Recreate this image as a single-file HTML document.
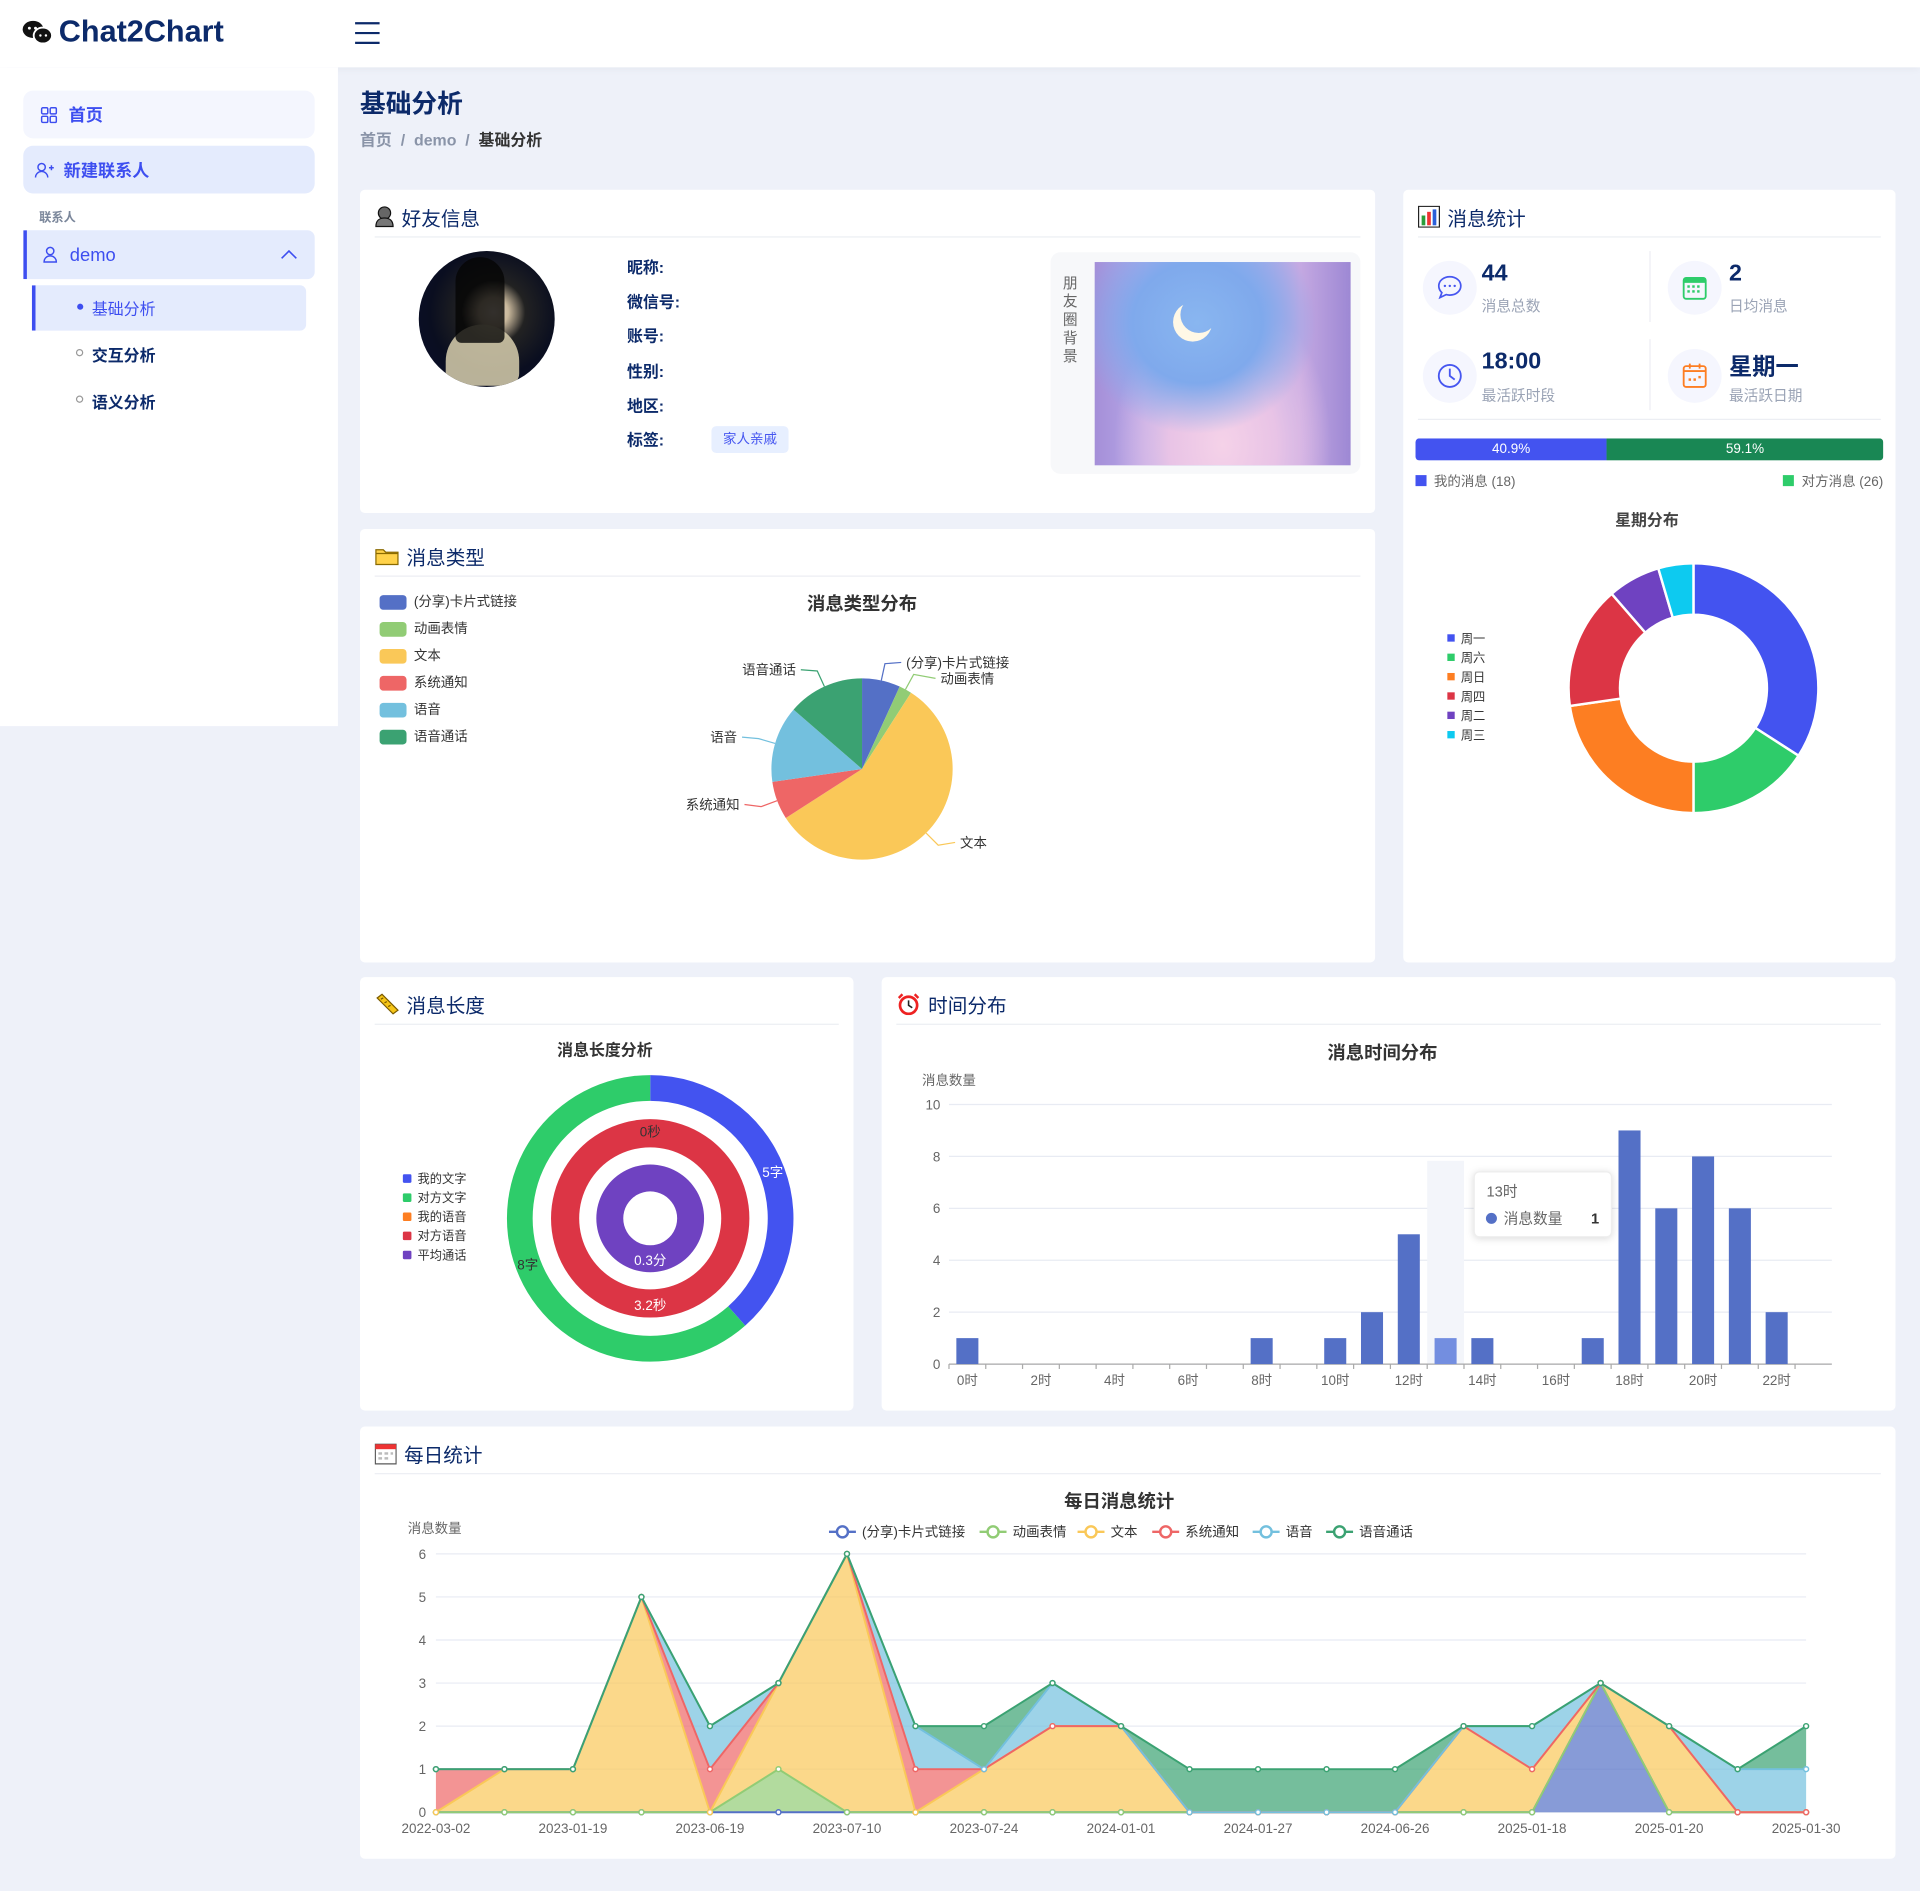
<!DOCTYPE html>
<html><head><meta charset="utf-8">
<style>
html,body{margin:0;padding:0;width:1920px;height:1890px;overflow:hidden;background:#eef1f9;}
*{box-sizing:border-box;}
#root{position:absolute;left:0;top:0;width:1568px;height:1544px;transform:scale(1.22449);transform-origin:0 0;font-family:"Liberation Sans","Noto Sans CJK SC",sans-serif;color:#333;}
.abs{position:absolute;}
.card{position:absolute;background:#fff;border-radius:4px;}
.ch{position:absolute;left:12px;top:10px;font-size:16px;color:#0c2a6a;display:flex;align-items:center;gap:6px;}
.chline{position:absolute;left:12px;right:12px;top:38px;height:1px;background:#eceef3;}
.side-item{position:absolute;left:19px;width:238px;height:39px;border-radius:8px;display:flex;align-items:center;font-size:14px;font-weight:bold;color:#3d4ef0;}
svg text{font-family:"Liberation Sans","Noto Sans CJK SC",sans-serif;}
</style></head><body>
<div id="root">
<div class="abs" style="left:0;top:0;width:1568px;height:55px;background:#fff;box-shadow:0 2px 6px rgba(0,0,0,0.04);">
  <svg class="abs" style="left:18px;top:16px" width="26" height="22"><ellipse cx="9" cy="8" rx="8.5" ry="7" fill="#111"/><ellipse cx="17" cy="13" rx="7.5" ry="6.5" fill="#111" stroke="#fff" stroke-width="1.5"/><circle cx="6" cy="7" r="1.2" fill="#fff"/><circle cx="11" cy="7" r="1.2" fill="#fff"/><circle cx="15" cy="13" r="1" fill="#fff"/><circle cx="19.5" cy="13" r="1" fill="#fff"/></svg>
  <div class="abs" style="left:48px;top:12px;font-size:25px;font-weight:bold;color:#0c2a6a;">Chat2Chart</div>
  <svg class="abs" style="left:289px;top:17px" width="22" height="20"><path d="M1 2H21M1 10H21M1 18H21" stroke="#0c2a6a" stroke-width="1.8"/></svg>
</div>
<div class="abs" style="left:0;top:55px;width:276px;height:538px;background:#fff;">
  <div class="side-item" style="top:19px;background:#f4f6fe;"><svg style="margin-left:14px;margin-right:9px" width="14" height="14"><g fill="none" stroke="#3d4ef0" stroke-width="1.2"><rect x="1" y="1" width="5" height="5" rx="1"/><rect x="8" y="1" width="5" height="5" rx="1"/><rect x="1" y="8" width="5" height="5" rx="1"/><rect x="8" y="8" width="5" height="5" rx="1"/></g></svg>首页</div>
  <div class="side-item" style="top:64px;background:#e4ebfd;"><svg style="margin-left:9px;margin-right:8px" width="16" height="14"><g fill="none" stroke="#3d4ef0" stroke-width="1.2"><circle cx="6" cy="4.5" r="3"/><path d="M1 13c0-3 2.5-5 5-5s5 2 5 5"/><path d="M12 5h4M14 3v4"/></g></svg>新建联系人</div>
  <div class="abs" style="left:32px;top:114px;font-size:10px;color:#7a869a;font-weight:bold;">联系人</div>
  <div class="side-item" style="top:133px;height:40px;background:#e4ebfd;border-radius:0 6px 6px 0;border-left:3px solid #3d4ef0;font-weight:normal;font-size:15px;"><svg style="margin-left:13px;margin-right:10px" width="12" height="14"><g fill="none" stroke="#3d4ef0" stroke-width="1.2"><circle cx="6" cy="4" r="3"/><path d="M1 13c0-3 2.2-5 5-5s5 2 5 5z"/></g></svg>demo<svg style="position:absolute;right:14px" width="14" height="8"><path d="M1 7L7 1L13 7" fill="none" stroke="#3d4ef0" stroke-width="1.3"/></svg></div>
  <div class="abs" style="left:26px;top:178px;width:224px;height:37px;background:#e4ebfd;border-left:3px solid #3d4ef0;border-radius:0 5px 5px 0;font-size:13px;color:#3d4ef0;padding:9px 0 0 46px;"><span style="position:absolute;left:34px;top:15px;width:5px;height:5px;border-radius:50%;background:#3d4ef0"></span>基础分析</div>
  <div class="abs" style="left:75px;top:225px;font-size:13px;font-weight:bold;color:#0c2a6a;"><span style="position:absolute;left:-13px;top:5px;width:6px;height:6px;border-radius:50%;border:1px solid #999"></span>交互分析</div>
  <div class="abs" style="left:75px;top:263px;font-size:13px;font-weight:bold;color:#0c2a6a;"><span style="position:absolute;left:-13px;top:5px;width:6px;height:6px;border-radius:50%;border:1px solid #999"></span>语义分析</div>
</div>
<div class="abs" style="left:294px;top:69px;font-size:21px;font-weight:bold;color:#0c2a6a;">基础分析</div>
<div class="abs" style="left:294px;top:104px;font-size:13px;color:#8a94a8;font-weight:bold;"><span>首页</span> &nbsp;/&nbsp; <span>demo</span> &nbsp;/&nbsp; <span style="color:#333">基础分析</span></div>

<div class="card" style="left:294px;top:155px;width:829px;height:264px;">
  <div class="ch"><svg width="16" height="18"><circle cx="8" cy="6" r="5" fill="#666" stroke="#111"/><path d="M1 17c0-5 3-7 7-7s7 2 7 7z" fill="#777" stroke="#111"/></svg>好友信息</div>
  <div class="chline"></div>
  <div class="abs" style="left:48px;top:50px;width:111px;height:111px;border-radius:50%;overflow:hidden;background:radial-gradient(circle at 55% 45%,#e9d9c8 0,#c9b89c 14%,#222 30%,#0a0e20 60%,#0b0f2e 100%);"><div style="position:absolute;left:22px;top:60px;width:60px;height:50px;border-radius:30px 30px 10px 10px;background:#d8cfae;opacity:.85"></div><div style="position:absolute;left:30px;top:5px;width:40px;height:70px;background:#050505;border-radius:20px 20px 5px 5px;opacity:.8"></div></div>
  <div class="abs" style="left:218px;top:50px;font-size:13px;font-weight:bold;color:#0c2a6a;line-height:28.2px;">昵称:<br>微信号:<br>账号:<br>性别:<br>地区:<br>标签:</div>
  <div class="abs" style="left:287px;top:193px;width:63px;height:22px;background:#e7efff;border-radius:4px;font-size:11px;color:#4656f0;text-align:center;line-height:22px;">家人亲戚</div>
  <div class="abs" style="left:564px;top:51px;width:253px;height:181px;background:#f7f8fa;border-radius:8px;">
    <div class="abs" style="left:10px;top:18px;width:14px;font-size:12px;line-height:15px;color:#666;">朋友圈背景</div>
    <div class="abs" style="left:36px;top:8px;width:209px;height:166px;background:radial-gradient(ellipse at 40% 30%,#89b6f0 0,#7fa9ec 30%,transparent 55%),radial-gradient(ellipse at 50% 90%,#f5d2e8 0,#e8c3e6 30%,transparent 60%),linear-gradient(90deg,#a58fd8,#b7a8e8 20%,#8db2ef 45%,#c5a9e2 80%,#9d88d4);"><div style="position:absolute;left:70px;top:28px;width:30px;height:30px;border-radius:50%;box-shadow:-5px 6px 0 1px #fff8e6;"></div></div>
  </div>
</div>

<div class="card" style="left:1146px;top:155px;width:402px;height:631px;">
  <div class="ch"><svg width="18" height="18"><rect x="0.5" y="0.5" width="17" height="17" fill="#fff" stroke="#222"/><rect x="3" y="8" width="3" height="8" fill="#2a9d3a"/><rect x="7.5" y="5" width="3" height="11" fill="#e33"/><rect x="12" y="3" width="3" height="13" fill="#2b5fd9"/></svg>消息统计</div>
  <div class="chline"></div>
  <div class="abs" style="left:201px;top:50px;width:1px;height:58px;background:#eceef3"></div>
  <div class="abs" style="left:201px;top:122px;width:1px;height:58px;background:#eceef3"></div>
  <div class="abs" style="left:12px;top:187px;width:378px;height:1px;background:#eceef3"></div>
  <div class="abs" style="left:16px;top:58px;width:44px;height:44px;border-radius:50%;background:#f5f6fe;"><svg style="margin:11px" width="22" height="22"><path d="M11 2c5 0 9 3.3 9 7.5S16 17 11 17c-1 0-2-.1-3-.4L3 19l1.5-4C3 13.6 2 11.6 2 9.5 2 5.3 6 2 11 2z" fill="none" stroke="#4656f0" stroke-width="1.4"/><circle cx="7" cy="9.5" r="1" fill="#4656f0"/><circle cx="11" cy="9.5" r="1" fill="#4656f0"/><circle cx="15" cy="9.5" r="1" fill="#4656f0"/></svg></div>
  <div class="abs" style="left:64px;top:58px;font-size:19px;font-weight:bold;color:#0c2a6a;">44</div>
  <div class="abs" style="left:64px;top:86px;font-size:12px;color:#9aa3b5;">消息总数</div>
  <div class="abs" style="left:216px;top:58px;width:44px;height:44px;border-radius:50%;background:#f5f6fe;"><svg style="margin:11px" width="22" height="22"><rect x="2" y="3" width="18" height="17" rx="2" fill="none" stroke="#2ecc6a" stroke-width="1.5"/><rect x="2" y="3" width="18" height="4" fill="#2ecc6a"/><g fill="#2ecc6a"><rect x="5" y="9" width="2" height="2"/><rect x="9" y="9" width="2" height="2"/><rect x="13" y="9" width="2" height="2"/><rect x="5" y="13" width="2" height="2"/><rect x="9" y="13" width="2" height="2"/><rect x="13" y="13" width="2" height="2"/></g></svg></div>
  <div class="abs" style="left:266px;top:58px;font-size:19px;font-weight:bold;color:#0c2a6a;">2</div>
  <div class="abs" style="left:266px;top:86px;font-size:12px;color:#9aa3b5;">日均消息</div>
  <div class="abs" style="left:16px;top:130px;width:44px;height:44px;border-radius:50%;background:#f5f6fe;"><svg style="margin:11px" width="22" height="22"><circle cx="11" cy="11" r="9" fill="none" stroke="#4656f0" stroke-width="1.5"/><path d="M11 5v6l4 3" fill="none" stroke="#4656f0" stroke-width="1.5"/></svg></div>
  <div class="abs" style="left:64px;top:130px;font-size:19px;font-weight:bold;color:#0c2a6a;">18:00</div>
  <div class="abs" style="left:64px;top:159px;font-size:12px;color:#9aa3b5;">最活跃时段</div>
  <div class="abs" style="left:216px;top:130px;width:44px;height:44px;border-radius:50%;background:#f5f6fe;"><svg style="margin:11px" width="22" height="22"><rect x="2" y="3" width="18" height="17" rx="2" fill="none" stroke="#fd7e22" stroke-width="1.5"/><path d="M2 7h18M7 1v4M15 1v4" stroke="#fd7e22" stroke-width="1.5"/><g fill="#fd7e22"><rect x="6" y="13" width="2" height="2"/><rect x="10" y="13" width="2" height="2"/><rect x="14" y="11" width="2" height="2"/></g></svg></div>
  <div class="abs" style="left:266px;top:130px;font-size:19px;font-weight:bold;color:#0c2a6a;">星期一</div>
  <div class="abs" style="left:266px;top:159px;font-size:12px;color:#9aa3b5;">最活跃日期</div>
  <div class="abs" style="left:10px;top:203px;width:382px;height:18px;border-radius:3px;overflow:hidden;display:flex;font-size:11px;color:#fff;line-height:18px;text-align:center;"><div style="width:40.9%;background:#4353f0">40.9%</div><div style="width:59.1%;background:#198754">59.1%</div></div>
  <div class="abs" style="left:10px;top:230px;font-size:11px;color:#666;"><span style="display:inline-block;width:9px;height:9px;background:#4353f0;margin-right:6px"></span>我的消息 (18)</div>
  <div class="abs" style="right:10px;top:230px;font-size:11px;color:#666;"><span style="display:inline-block;width:9px;height:9px;background:#2ecc6a;margin-right:6px"></span>对方消息 (26)</div>
</div>

<div class="card" style="left:294px;top:432px;width:829px;height:354px;">
  <div class="ch"><svg width="20" height="16"><path d="M1 3h6l2 2h10v10H1z" fill="#ffd24a" stroke="#8a6a00"/><path d="M1 6h18" stroke="#8a6a00"/></svg>消息类型</div>
  <div class="chline"></div>
</div>
<div class="card" style="left:294px;top:798px;width:403px;height:354px;">
  <div class="ch"><svg width="20" height="18"><path d="M2 4l4-3 13 13-4 3z" fill="#f5c518" stroke="#7a5a00"/><path d="M5 5l2-1M8 8l2-1M11 11l2-1" stroke="#7a5a00"/></svg>消息长度</div>
  <div class="chline"></div>
</div>
<div class="card" style="left:720px;top:798px;width:828px;height:354px;">
  <div class="ch"><svg width="20" height="18"><circle cx="10" cy="10" r="7" fill="#fff" stroke="#e22" stroke-width="2.2"/><path d="M10 6v4l3 2" stroke="#222" stroke-width="1.3" fill="none"/><path d="M2 4l3-3M18 4l-3-3" stroke="#e22" stroke-width="2"/></svg>时间分布</div>
  <div class="chline"></div>
</div>
<div class="card" style="left:294px;top:1165px;width:1254px;height:353px;">
  <div class="ch"><svg width="18" height="18"><rect x="0.5" y="1.5" width="17" height="16" fill="#fff" stroke="#555"/><rect x="0.5" y="1.5" width="17" height="4" fill="#e33"/><g fill="#bbb"><rect x="3" y="8" width="3" height="2"/><rect x="8" y="8" width="3" height="2"/><rect x="13" y="8" width="2" height="2"/><rect x="3" y="12" width="3" height="2"/><rect x="8" y="12" width="3" height="2"/></g></svg>每日统计</div>
  <div class="chline"></div>
</div>

<svg id="charts" class="abs" style="left:0;top:0" width="1568" height="1544"></svg>
</div>

<script>
const typeNames = ['(分享)卡片式链接','动画表情','文本','系统通知','语音','语音通话'];
const typeValues = [3, 1, 25, 3, 6, 6];
const typeColors = ['#5470c6','#91cc75','#fac858','#ee6666','#73c0de','#3ba272'];
const weekNames = ['周一','周六','周日','周四','周二','周三'];
const weekValues = [15, 7, 10, 7, 3, 2];
const weekColors = ['#4353f0','#2ecc6a','#fd7e22','#dc3545','#6f42c1','#0dcaf0'];
const lenNames = ['我的文字','对方文字','我的语音','对方语音','平均通话'];
const lenColors = ['#4353f0','#2ecc6a','#fd7e22','#dc3545','#6f42c1'];
const textLen = [5, 8];
const textLenLabels = ['5字','8字'];
const voiceLen = [0, 3.2];
const voiceLenLabels = ['0秒','3.2秒'];
const callLen = [0.3];
const callLenLabels = ['0.3分'];
const hourLabels = ['0时','1时','2时','3时','4时','5时','6时','7时','8时','9时','10时','11时','12时','13时','14时','15时','16时','17时','18时','19时','20时','21时','22时','23时'];
const hourValues = [1,0,0,0,0,0,0,0,1,0,1,2,5,1,1,0,0,1,9,6,8,6,2,0];
const hourTicks = [0,2,4,6,8,10];
const dayLabels = ['2022-03-02','2022-12-30','2023-01-19','2023-03-08','2023-06-19','2023-06-28','2023-07-10','2023-07-18','2023-07-24','2023-10-05','2024-01-01','2024-01-15','2024-01-27','2024-03-10','2024-06-26','2024-11-02','2025-01-18','2025-01-19','2025-01-20','2025-01-25','2025-01-30'];
const dayCard  = [0,0,0,0,0,0,0,0,0,0,0,0,0,0,0,0,0,3,0,0,0];
const dayAnim  = [0,0,0,0,0,1,0,0,0,0,0,0,0,0,0,0,0,0,0,0,0];
const dayText  = [0,1,1,5,0,2,6,0,1,2,2,0,0,0,0,2,1,0,2,0,0];
const daySys   = [1,0,0,0,1,0,0,1,0,0,0,0,0,0,0,0,0,0,0,0,0];
const dayVoice = [0,0,0,0,1,0,0,1,0,1,0,0,0,0,0,0,1,0,0,1,1];
const dayCall  = [0,0,0,0,0,0,0,0,1,0,0,1,1,1,1,0,0,0,0,0,1];
const dayTicks = [0,1,2,3,4,5,6];

const NS='http://www.w3.org/2000/svg';
const root=document.getElementById('charts');
function el(tag,attrs,parent){const e=document.createElementNS(NS,tag);for(const k in attrs)e.setAttribute(k,attrs[k]);(parent||root).appendChild(e);return e;}
function txt(x,y,s,attrs,parent){const t=el('text',Object.assign({x:x,y:y},attrs),parent);t.textContent=s;return t;}
function pt(cx,cy,r,a){return [cx+r*Math.sin(a),cy-r*Math.cos(a)];}
function arcPath(cx,cy,r0,r1,a0,a1){
  if(a1-a0>=Math.PI*2-1e-6)a1=a0+Math.PI*2-1e-4;
  const L=(a1-a0)>Math.PI?1:0;const p1=pt(cx,cy,r1,a0),p2=pt(cx,cy,r1,a1);
  if(r0<=0){return `M${cx},${cy}L${p1}A${r1},${r1} 0 ${L} 1 ${p2}Z`;}
  const p3=pt(cx,cy,r0,a1),p4=pt(cx,cy,r0,a0);
  return `M${p1}A${r1},${r1} 0 ${L} 1 ${p2}L${p3}A${r0},${r0} 0 ${L} 0 ${p4}Z`;
}

(function(){
  const g=el('g',{});
  
  
  txt(704,498,'消息类型分布',{'font-size':15,'font-weight':'bold','fill':'#333','text-anchor':'middle'},g);
  typeNames.forEach((n,i)=>{
    const r=el('rect',{x:310,y:486+i*22,width:22,height:12,rx:3,fill:typeColors[i]},g);
    
    
    txt(338,495+i*22,n,{'font-size':11,'fill':'#333'},g);
  });
  const cx=704,cy=628,R=74,tot=typeValues.reduce((a,b)=>a+b,0);
  let a=0;
  const lab=[[740,545,'start'],[768,558,'start'],[784,692,'start'],[604,661,'end'],[602,606,'end'],[650,551,'end']];
  typeValues.forEach((v,i)=>{
    const a1=a+v/tot*Math.PI*2;
    const p=el('path',{d:arcPath(cx,cy,0,R,a,a1),fill:typeColors[i]},g);
    
    
    const mid=(a+a1)/2,e1=pt(cx,cy,R,mid),e2=pt(cx,cy,R+14,mid);
    const [lx,ly,an]=lab[i];
    const hx=an==='start'?lx-4:lx+4;
    el('polyline',{points:`${e1} ${e2} ${hx},${ly-4}`,fill:'none',stroke:typeColors[i],'stroke-width':1},g);
    txt(lx,ly,typeNames[i],{'font-size':11,'fill':'#333','text-anchor':an},g);
    a=a1;
  });
})();

(function(){
  const g=el('g',{});
  
  
  txt(1345,429,'星期分布',{'font-size':13,'font-weight':'bold','fill':'#444','text-anchor':'middle'},g);
  weekNames.forEach((n,i)=>{
    const r=el('rect',{x:1182,y:518+i*15.8,width:6,height:6,fill:weekColors[i]},g);
    
    
    txt(1193,525+i*15.8,n,{'font-size':10,'fill':'#333'},g);
  });
  const cx=1383,cy=562,tot=weekValues.reduce((a,b)=>a+b,0);let a=0;
  weekValues.forEach((v,i)=>{
    const a1=a+v/tot*Math.PI*2;
    const p=el('path',{d:arcPath(cx,cy,60,102,a,a1),fill:weekColors[i],stroke:'#fff','stroke-width':2},g);
    
    
    a=a1;
  });
})();

(function(){
  const g=el('g',{});
  
  
  txt(494,862,'消息长度分析',{'font-size':13,'font-weight':'bold','fill':'#333','text-anchor':'middle'},g);
  lenNames.forEach((n,i)=>{
    const r=el('rect',{x:329,y:959+i*15.6,width:7,height:7,rx:1,fill:lenColors[i]},g);
    
    
    txt(341,966+i*15.6,n,{'font-size':10,'fill':'#333'},g);
  });
  const cx=531,cy=995;
  const labels=[];
  function ring(vals,labs,cols,r0,r1,labelR,lcol){
    const tot=vals.reduce((a,b)=>a+b,0);let a=0;
    vals.forEach((v,i)=>{
      const a1=a+v/tot*Math.PI*2;
      if(v>0){
        const p=el('path',{d:arcPath(cx,cy,r0,r1,a,a1),fill:cols[i]},g);
        
        
      }
      const m=(a+a1)/2,q=pt(cx,cy,labelR,m);
      labels.push([q[0],q[1]+4,labs[i],lcol[i]]);
      a=a1;
    });
  }
  ring(textLen,textLenLabels,[lenColors[0],lenColors[1]],96,117,107,['#fff','#333']);
  ring(voiceLen,voiceLenLabels,[lenColors[2],lenColors[3]],58,81,71,['#333','#fff']);
  ring(callLen,callLenLabels,[lenColors[4]],22,44,36,['#fff']);
  labels[labels.length-1][0]=cx;labels[labels.length-1][1]=cy+38;
  labels.forEach(l=>txt(l[0],l[1],l[2],{'font-size':11,'fill':l[3],'text-anchor':'middle'},g));
})();

(function(){
  const g=el('g',{});
  
  
  txt(1129,865,'消息时间分布',{'font-size':15,'font-weight':'bold','fill':'#333','text-anchor':'middle'},g);
  txt(753,886,'消息数量',{'font-size':11,'fill':'#666'},g);
  const x0=775,x1=1496,y0=1114,y1=902,maxV=10;
  const bw=(x1-x0)/hourLabels.length;
  const X=i=>x0+bw*(i+0.5), Y=v=>y0-(v/maxV)*(y0-y1);
  hourTicks.forEach(t=>{
    el('line',{x1:x0,x2:x1,y1:Y(t),y2:Y(t),stroke:'#e8ebf3','stroke-width':1},g);
    txt(768,Y(t)+4,String(t),{'font-size':11,'fill':'#666','text-anchor':'end'},g);
  });
  el('rect',{x:X(13)-bw/2,y:948,width:bw,height:y0-948,fill:'#f3f5fa'},g);
  el('line',{x1:x0,x2:x1,y1:y0,y2:y0,stroke:'#aaa','stroke-width':1},g);
  hourLabels.forEach((l,i)=>{
    el('line',{x1:x0+bw*i,x2:x0+bw*i,y1:y0,y2:y0+4,stroke:'#aaa'},g);
    if(i%2===0)txt(X(i),1131,l,{'font-size':11,'fill':'#666','text-anchor':'middle'},g);
  });
  hourValues.forEach((v,i)=>{
    if(v<=0)return;
    const r=el('rect',{x:X(i)-9,y:Y(v),width:18,height:y0-Y(v),fill:i===13?'#738ee0':'#5470c6'},g);
    
    
  });
  const tip=el('g',{},g);
  
  
  el('rect',{x:1204,y:957,width:112,height:53,rx:4,fill:'#fff',stroke:'#eee',style:'filter:drop-shadow(0 1px 3px rgba(0,0,0,0.15))'},tip);
  txt(1214,977,hourLabels[13],{'font-size':12,'fill':'#666'},tip);
  el('circle',{cx:1218,cy:995,r:4.5,fill:'#5470c6'},tip);
  txt(1228,999,'消息数量',{'font-size':12,'fill':'#666'},tip);
  txt(1306,999,String(hourValues[13]),{'font-size':12,'fill':'#333','font-weight':'bold','text-anchor':'end'},tip);
})();

(function(){
  const g=el('g',{});
  
  
  txt(914,1231,'每日消息统计',{'font-size':15,'font-weight':'bold','fill':'#333','text-anchor':'middle'},g);
  txt(333,1252,'消息数量',{'font-size':11,'fill':'#666'},g);
  const x0=356,x1=1475,y0=1480,y1=1269,maxV=6;
  const n=dayLabels.length;
  const X=i=>x0+(x1-x0)*i/(n-1), Y=v=>y0-(v/maxV)*(y0-y1);
  dayTicks.forEach(t=>{
    el('line',{x1:x0,x2:x1,y1:Y(t),y2:Y(t),stroke:'#e8ebf3'},g);
    txt(348,Y(t)+4,String(t),{'font-size':11,'fill':'#666','text-anchor':'end'},g);
  });
  dayLabels.forEach((l,i)=>{if(i%2===0)txt(X(i),1497,l,{'font-size':11,'fill':'#666','text-anchor':'middle'},g);});
  const series=[dayCard,dayAnim,dayText,daySys,dayVoice,dayCall];
  const lx=[677,800,880,941,1023,1083];
  typeNames.forEach((nm,i)=>{
    const lg=el('g',{},g);
    
    
    el('line',{x1:lx[i],x2:lx[i]+22,y1:1251,y2:1251,stroke:typeColors[i],'stroke-width':2},lg);
    el('circle',{cx:lx[i]+11,cy:1251,r:4.5,fill:'#fff',stroke:typeColors[i],'stroke-width':2},lg);
    txt(lx[i]+27,1255,nm,{'font-size':11,'fill':'#333'},lg);
  });
  let base=new Array(n).fill(0);
  const layers=[];
  series.forEach((s,k)=>{
    const top=base.map((b,i)=>b+s[i]);
    let d='M'+top.map((v,i)=>X(i)+','+Y(v)).join('L');
    for(let i=n-1;i>=0;i--)d+='L'+X(i)+','+Y(base[i]);
    d+='Z';
    const p=el('path',{d:d,fill:typeColors[k],'fill-opacity':0.7,stroke:'none'},g);
    
    
    layers.push(top);base=top;
  });
  layers.forEach((top,k)=>{
    const l=el('polyline',{points:top.map((v,i)=>X(i)+','+Y(v)).join(' '),fill:'none',stroke:typeColors[k],'stroke-width':1.6},g);
    
    
  });
  layers.forEach((top,k)=>{
    top.forEach((v,i)=>{
      const c=el('circle',{cx:X(i),cy:Y(v),r:2,fill:'#fff',stroke:typeColors[k],'stroke-width':1.2},g);
      
      
    });
  });
})();
</script>
</body></html>
